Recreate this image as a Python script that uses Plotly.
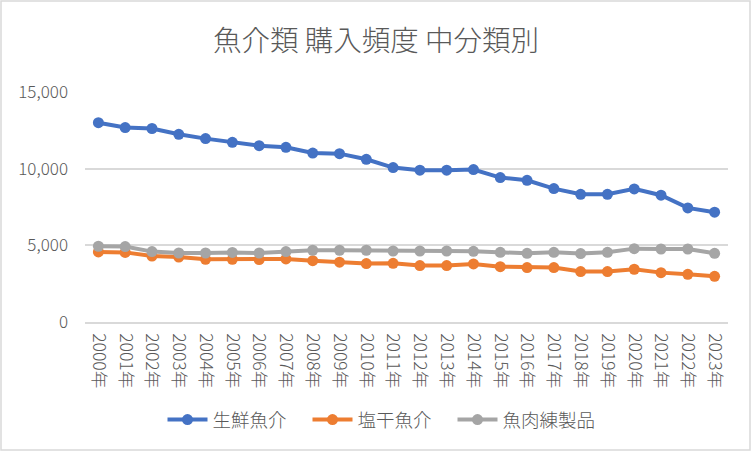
import plotly.graph_objects as go

years = [f"{y}年" for y in range(2000, 2024)]
fresh = [13000, 12680, 12620, 12240, 11960, 11720, 11500, 11390, 11020, 10980, 10610,
         10070, 9900, 9900, 9940, 9420, 9240, 8700, 8330, 8330, 8680, 8270, 7440, 7160]
salted = [4570, 4540, 4300, 4240, 4090, 4090, 4070, 4110, 4000, 3900, 3810,
          3830, 3680, 3680, 3790, 3610, 3550, 3550, 3290, 3290, 3440, 3220, 3110, 2980]
paste = [4940, 4920, 4590, 4500, 4500, 4540, 4500, 4590, 4680, 4680, 4680,
         4630, 4630, 4630, 4610, 4545, 4480, 4545, 4460, 4545, 4785, 4760, 4760, 4480]

series = [("生鮮魚介", fresh, "#4472C4"), ("塩干魚介", salted, "#ED7D31"), ("魚肉練製品", paste, "#A5A5A5")]

FONT = "Noto Sans CJK JP"
fig = go.Figure()
for name, vals, col in series:
    fig.add_trace(go.Scatter(x=years, y=vals, name=name, mode="lines+markers",
                             line=dict(color=col, width=4), marker=dict(color=col, size=11)))

W, H = 752, 452
L, R, T, B = 85, 24, 92, 130
pw, ph = W - L - R, H - T - B

def px(x):
    return (x - L) / pw

def py(y):
    return (H - B - y) / ph

fig.update_layout(
    width=W, height=H,
    margin=dict(l=L, r=R, t=T, b=B, autoexpand=False),
    paper_bgcolor="white", plot_bgcolor="white",
    font=dict(family=FONT, color="#595959", size=15),
    title=dict(text="魚介類 購入頻度 中分類別", x=0.5, xanchor="center", y=1 - 41 / H, yanchor="middle",
               font=dict(size=28.5, color="#595959", family=FONT, weight=300)),
    showlegend=True,
    legend=dict(orientation="h", x=px(380), xanchor="center", y=py(420), yanchor="middle",
                font=dict(size=18.5, color="#595959", weight=300), itemwidth=40, tracegroupgap=0,
                entrywidth=90, entrywidthmode="pixels"),
    xaxis=dict(type="category", range=[-0.5, len(years) - 0.5], tickangle=90, showgrid=False,
               showline=True, linecolor="#d9d9d9", linewidth=1.5, ticks="", automargin=False,
               ticklabelstandoff=6, tickfont=dict(size=17.5, color="#595959", weight=300)),
    yaxis=dict(range=[0, 15000], dtick=5000, tickformat=",", showgrid=True, gridcolor="#d9d9d9",
               gridwidth=1.5, zeroline=False, showline=False, ticks="", ticklabelstandoff=16,
               automargin=False, tickfont=dict(size=17, color="#595959", weight=300)),
    shapes=[dict(type="rect", xref="paper", yref="paper", x0=px(1), x1=px(750), y0=py(450), y1=py(1),
                 line=dict(color="#d9d9d9", width=1.5), layer="below")],
)

fig.write_html("out.html", config={"displayModeBar": False},
               post_script="document.body.style.margin='0';document.body.style.overflow='hidden';")
